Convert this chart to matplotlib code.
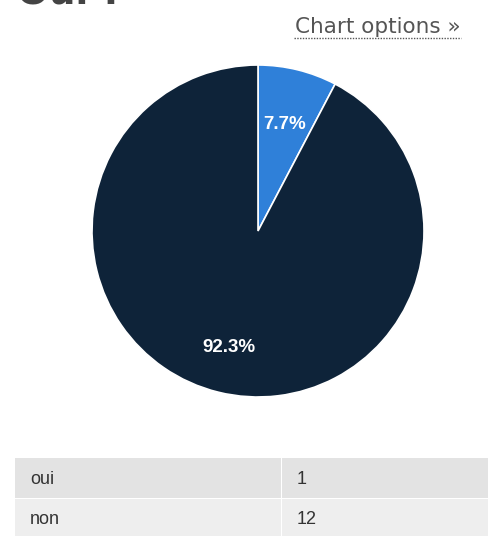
import math
import matplotlib
matplotlib.use('Agg')
from matplotlib import pyplot as plt
from matplotlib.patches import Rectangle

# data
labels = ['oui', 'non']
counts = [1, 12]
colors = ['#2f80d9', '#0e2339']

W, H = 489, 536
fig = plt.figure(figsize=(W / 100, H / 100), dpi=100)


def fx(px):
    return px / W


def fy(py):
    return 1 - py / H


# title, cut off at the top as in the page screenshot
fig.text(fx(17), fy(4), 'Oui ?', fontsize=27, fontweight='bold', color='#444444',
         ha='left', va='baseline', family='DejaVu Sans')

# chart options link
fig.text(fx(461), fy(33), 'Chart options \u00bb', fontsize=15.5, color='#555555',
         ha='right', va='baseline', family='DejaVu Sans')
fig.add_artist(plt.Line2D([fx(294), fx(461)], [fy(38), fy(38)], color='#555555',
                          lw=1, ls=(0, (1, 1))))

# pie
cx, cy, r = 258, 231, 166
ax = fig.add_axes([fx(cx - r), fy(cy + r), fx(2 * r), 2 * r / H])
wedges, texts, autotexts = ax.pie(counts, colors=colors, startangle=90, counterclock=False,
                                  autopct='%1.1f%%', pctdistance=0.72,
                                  wedgeprops=dict(edgecolor='white', linewidth=1.2))
label_dist = [0.66, 0.72]
for w, t, d in zip(wedges, autotexts, label_dist):
    ang = math.radians((w.theta1 + w.theta2) / 2)
    t.set_position((d * math.cos(ang), d * math.sin(ang)))
    t.set_color('white')
    t.set_fontsize(13.5)
    t.set_fontweight('bold')
    t.set_family('Liberation Sans')
ax.set_xlim(-1, 1)
ax.set_ylim(-1, 1)
ax.set_aspect('equal')
ax.axis('off')

# table
row_top = [458, 499]
row_h = 40
row_bg = ['#e3e3e3', '#eeeeee']
col_x = [15, 282]
col_w = [266, 207]
for i, (lab, val) in enumerate(zip(labels, counts)):
    y0 = row_top[i]
    for j, txt in enumerate([lab, str(val)]):
        fig.add_artist(Rectangle((fx(col_x[j]), fy(y0 + row_h)), fx(col_w[j]), row_h / H,
                                 facecolor=row_bg[i], edgecolor='none'))
        fig.text(fx(col_x[j] + 15), fy(y0 + row_h / 2 + 1), txt, fontsize=13, color='#333333',
                 ha='left', va='center', family='Liberation Sans')

fig.savefig('out.png', dpi=100)
